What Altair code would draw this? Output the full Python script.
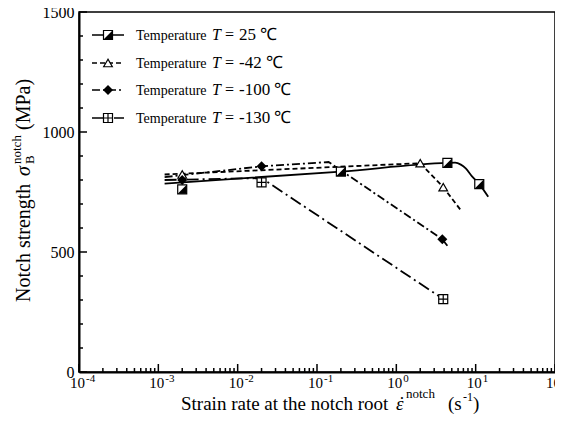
import altair as alt
import pandas as pd

W, H = 476, 360
FONT = "Liberation Serif"

temps = ["25", "-42", "-100", "-130"]
dashes = [[1, 0], [5, 3], [8, 3, 2, 3], [12, 4, 2, 4]]

# measured points (markers)
m25_x = [0.002, 0.2, 4.4, 11.1]
m25_y = [761, 835, 871, 783]
m42_x = [0.002, 2.0, 3.9]
m42_y = [823, 870, 770]
m100_x = [0.002, 0.02, 3.8]
m100_y = [800, 857, 553]
m130_x = [0.02, 3.9]
m130_y = [790, 304]

# fitted curves
c25_x = [0.0012, 0.2, 4.4, 5.5, 6.5, 7.5, 9.0, 11.1, 14.4]
c25_y = [785, 835, 871, 872, 864, 848, 815, 783, 730]
c42_x = [0.0012, 2.0, 3.9, 6.6]
c42_y = [823, 870, 770, 671]
c100_x = [0.0012, 0.02, 0.14, 0.19, 3.8, 4.4]
c100_y = [812, 857, 875, 845, 553, 526]
c130_x = [0.0012, 0.02, 3.9]
c130_y = [800, 808, 304]

x_major = [1e-4, 1e-3, 1e-2, 1e-1, 1, 10, 100]
x_exp = ["-4", "-3", "-2", "-1", "0", "1", "2"]
x_minor = [m * 10.0 ** k for k in range(-4, 2) for m in range(2, 10)]
y_major = [0, 500, 1000, 1500]
y_minor = [100, 200, 300, 400, 600, 700, 800, 900, 1100, 1200, 1300, 1400]

leg_nums = ["25", "-42", "-100", "-130"]

xs = alt.Scale(type="log", domain=[1e-4, 100])
ys = alt.Scale(domain=[0, 1500])


def curve_df(name, xv, yv):
    return pd.DataFrame({"series": name, "x": xv, "y": yv, "i": list(range(len(xv)))})


others = pd.concat([curve_df("-42", c42_x, c42_y), curve_df("-100", c100_x, c100_y),
                    curve_df("-130", c130_x, c130_y)])

dash_enc = alt.StrokeDash("series:N", scale=alt.Scale(domain=temps, range=dashes), legend=None)

base_lines = alt.Chart(others).mark_line(color="black", strokeWidth=1.8).encode(
    x=alt.X("x:Q", scale=xs, axis=alt.Axis(labels=False, ticks=False, grid=False, title=None,
                                           domainColor="black", domainWidth=2)),
    y=alt.Y("y:Q", scale=ys, axis=alt.Axis(values=y_major, format="d", ticks=False, grid=False,
                                           title=None, labelFont=FONT, labelFontSize=16,
                                           labelColor="black", labelPadding=5, labelFlush=False,
                                           domainColor="black", domainWidth=2)),
    strokeDash=dash_enc, detail="series:N", order="i:Q")

line25 = alt.Chart(curve_df("25", c25_x, c25_y)).mark_line(
    color="black", strokeWidth=1.8, interpolate="monotone").encode(
    x=alt.X("x:Q", scale=xs), y=alt.Y("y:Q", scale=ys), order="i:Q")


def pts(xv, yv):
    return alt.Chart(pd.DataFrame({"x": xv, "y": yv}))


def enc(c):
    return c.encode(x=alt.X("x:Q", scale=xs), y=alt.Y("y:Q", scale=ys))


HALF = "M1,-1L1,1L-1,1Z"
CROSS = "M-1,0L1,0M0,-1L0,1"

markers = [
    enc(pts(m25_x, m25_y).mark_point(shape="square", size=81, filled=True, fill="white",
                                     stroke="black", strokeWidth=1.2, opacity=1)),
    enc(pts(m25_x, m25_y).mark_point(shape=HALF, size=81, filled=True, color="black", opacity=1)),
    enc(pts(m42_x, m42_y).mark_point(shape="triangle-up", size=75, filled=True, fill="white",
                                     stroke="black", strokeWidth=1.2, opacity=1)),
    enc(pts(m100_x, m100_y).mark_point(shape="diamond", size=100, filled=True, color="black", opacity=1)),
    enc(pts(m130_x, m130_y).mark_point(shape="square", size=81, filled=True, fill="white",
                                       stroke="black", strokeWidth=1.2, opacity=1)),
    enc(pts(m130_x, m130_y).mark_point(shape=CROSS, size=81, filled=False, color="black",
                                       strokeWidth=1.2, opacity=1)),
]

# inward ticks
tx_major = alt.Chart(pd.DataFrame({"x": x_major})).mark_rule(color="black", strokeWidth=1.5).encode(
    x=alt.X("x:Q", scale=xs), y=alt.value(H), y2=alt.value(H - 8))
tx_minor = alt.Chart(pd.DataFrame({"x": x_minor})).mark_rule(color="black", strokeWidth=1.5).encode(
    x=alt.X("x:Q", scale=xs), y=alt.value(H), y2=alt.value(H - 4))
ty_major = alt.Chart(pd.DataFrame({"y": y_major})).mark_rule(color="black", strokeWidth=1.5).encode(
    y=alt.Y("y:Q", scale=ys), x=alt.value(0), x2=alt.value(8))
ty_minor = alt.Chart(pd.DataFrame({"y": y_minor})).mark_rule(color="black", strokeWidth=1.5).encode(
    y=alt.Y("y:Q", scale=ys), x=alt.value(0), x2=alt.value(4))

xlab_df = pd.DataFrame({"x": x_major, "e": x_exp})
xlab_base = alt.Chart(xlab_df).mark_text(align="right", baseline="alphabetic", dx=6, font=FONT,
                                         fontSize=15, color="black").encode(
    x=alt.X("x:Q", scale=xs), y=alt.value(H + 16), text=alt.value("10"))
xlab_exp = alt.Chart(xlab_df).mark_text(align="left", baseline="alphabetic", dx=7, font=FONT,
                                        fontSize=11, color="black").encode(
    x=alt.X("x:Q", scale=xs), y=alt.value(H + 10), text="e:N")

one = alt.Data(values=[{}])


def txt(s, x, y, size, style="normal", angle=0, align="left", baseline="alphabetic"):
    kw = dict(align=align, baseline=baseline, font=FONT, fontSize=size, fontStyle=style,
              color="black")
    if angle:
        kw["angle"] = angle
    return alt.Chart(one).mark_text(**kw).encode(x=alt.value(x), y=alt.value(y), text=alt.value(s))


# legend
leg_rows = [23, 51, 78, 106]
legend = []
for k, t in enumerate(temps):
    yy = leg_rows[k]
    legend.append(alt.Chart(one).mark_rule(color="black", strokeWidth=1.5, strokeDash=dashes[k]).encode(
        x=alt.value(13), x2=alt.value(45), y=alt.value(yy)))
    legend.append(txt("Temperature", 57, yy + 5, 14))
    legend.append(txt("T", 133, yy + 5, 16, style="italic"))
    legend.append(txt("=", 146, yy + 5, 16))
    legend.append(txt(leg_nums[k] + " ℃", 160, yy + 5, 17))


def lm(shape, size, yy, **kw):
    return alt.Chart(one).mark_point(shape=shape, size=size, opacity=1, **kw).encode(
        x=alt.value(29), y=alt.value(yy))


legend += [
    lm("square", 81, leg_rows[0], filled=True, fill="white", stroke="black", strokeWidth=1.2),
    lm(HALF, 81, leg_rows[0], filled=True, color="black"),
    lm("triangle-up", 75, leg_rows[1], filled=True, fill="white", stroke="black", strokeWidth=1.2),
    lm("diamond", 100, leg_rows[2], filled=True, color="black"),
    lm("square", 81, leg_rows[3], filled=True, fill="white", stroke="black", strokeWidth=1.2),
    lm(CROSS, 81, leg_rows[3], filled=False, color="black", strokeWidth=1.2),
]

# axis titles
titles = [
    txt("Strain rate at the notch root", 102, 398, 19),
    txt("ε", 317, 398, 19, style="italic"),
    txt("˙", 323, 398, 19, align="center"),
    txt("notch", 327, 386, 13),
    txt("(s", 369, 398, 19),
    txt("-1", 384, 389, 12),
    txt(")", 394, 398, 19),
    txt("Notch strength", -49, 290, 20, angle=270),
    txt("σ", -49, 164, 20, style="italic", angle=270),
    txt("notch", -58, 152, 13, angle=270),
    txt("B", -45, 152, 13, angle=270),
    txt("(MPa)", -49, 118, 20, angle=270),
]

chart = alt.layer(
    base_lines, line25, *markers, tx_major, tx_minor, ty_major, ty_minor,
    xlab_base, xlab_exp, *legend, *titles
).properties(
    width=W, height=H,
    padding={"left": 71, "top": 4, "right": 0, "bottom": 56},
    autosize=alt.AutoSizeParams(type="none"),
).configure_view(stroke="black", strokeWidth=1.5)

chart.save("out.html", embed_options={"renderer": "svg", "actions": False})
